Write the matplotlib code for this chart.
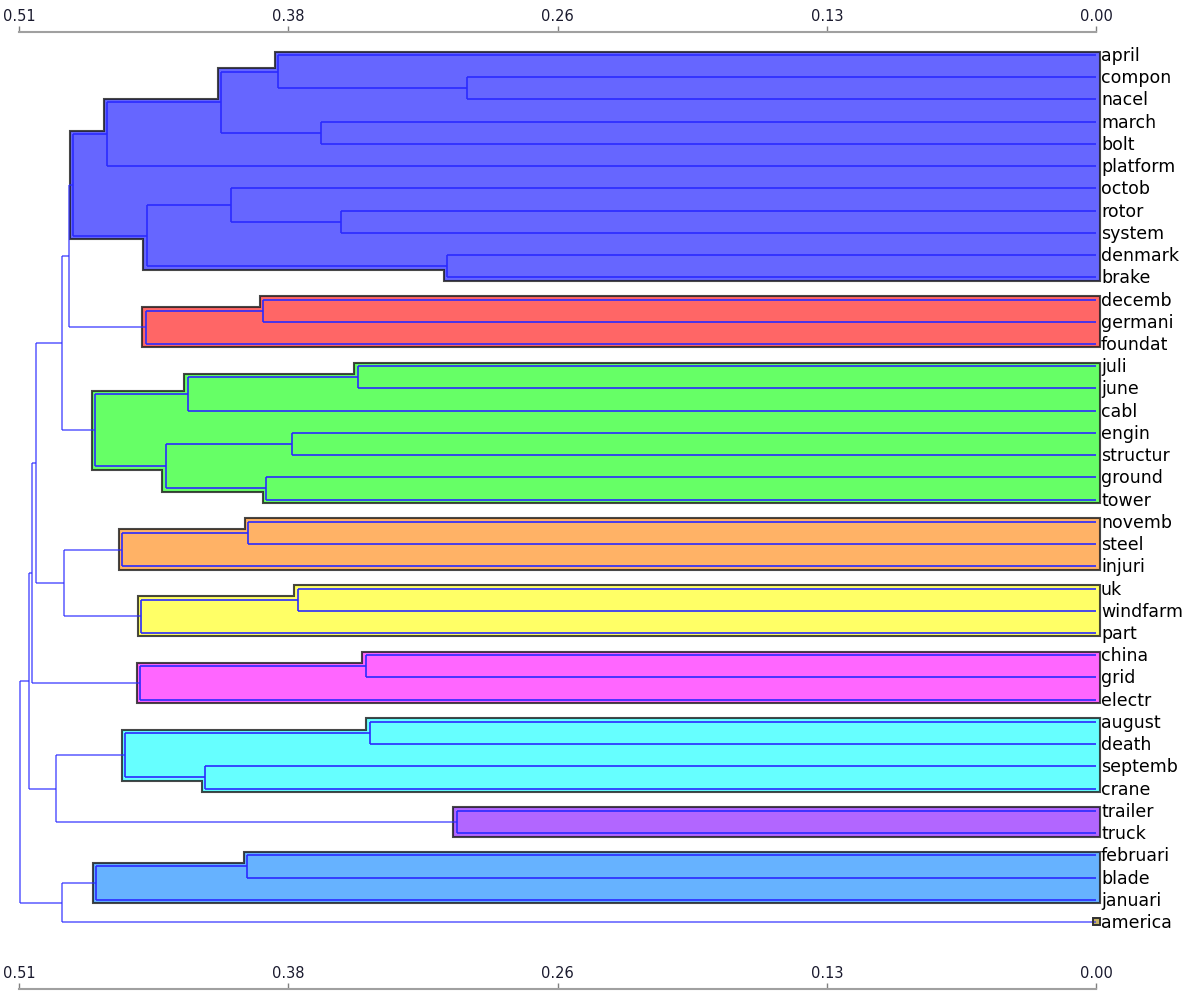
import matplotlib
matplotlib.use("Agg")
import matplotlib.pyplot as plt
from matplotlib.patches import Polygon, Rectangle

# ---------------- data ----------------
leaves = ["april", "compon", "nacel", "march", "bolt", "platform", "octob", "rotor",
          "system", "denmark", "brake", "decemb", "germani", "foundat", "juli", "june",
          "cabl", "engin", "structur", "ground", "tower", "novemb", "steel", "injuri",
          "uk", "windfarm", "part", "china", "grid", "electr", "august", "death",
          "septemb", "crane", "trailer", "truck", "februari", "blade", "januari", "america"]

# merges: children are leaf names or indices of earlier merges
merge_left = ["compon", "april", "march", 1, 3, "rotor", "octob", "denmark", 6, 4,
              "decemb", 10, 9, "juli", 13, "engin", "ground", 15, 14, 12,
              "novemb", 20, "uk", 22, 21, 19, "china", 26, 25, "august",
              "septemb", 29, "trailer", 31, 28, "februari", 35, 36, 34]
merge_right = ["nacel", 0, "bolt", 2, "platform", "system", 5, "brake", 7, 8,
               "germani", "foundat", 11, "june", "cabl", "structur", "tower", 16, 17, 18,
               "steel", "injuri", "windfarm", "part", 23, 24, "grid", "electr", 27, "death",
               "crane", 30, "truck", 32, 33, "blade", "januari", "america", 37]
merge_height = [0.2978, 0.3873, 0.3670, 0.4143, 0.4683, 0.3575, 0.4096, 0.3073, 0.4494, 0.4844,
                0.3944, 0.4499, 0.4863, 0.3495, 0.4300, 0.3807, 0.3930, 0.4404, 0.4740, 0.4896,
                0.4015, 0.4612, 0.3779, 0.4522, 0.4887, 0.5019, 0.3457, 0.4527, 0.5038, 0.3438,
                0.4219, 0.4598, 0.3026, 0.4924, 0.5052, 0.4020, 0.4735, 0.4896, 0.5095]

cluster_roots = [9, 11, 18, 21, 23, 27, 31, 32, 36, "america"]
cluster_colors = ["#0000ff", "#ff0000", "#00ff00", "#ff8000", "#ffff00",
                  "#ff00ff", "#00ffff", "#8000ff", "#0080ff", "#a08000"]

tick_values = [0.0, 0.1275, 0.255, 0.3825, 0.51]
tick_labels = ["0.00", "0.13", "0.26", "0.38", "0.51"]

# ---------------- layout ----------------
W, H = 1189, 991
fig = plt.figure(figsize=(W / 100, H / 100), dpi=100)
L = 19 / W
R = 1096 / W
TOP = 1 - 32 / H
BOT = 1.5 / H
ax = fig.add_axes([L, BOT, R - L, TOP - BOT])
XMAX = 0.51
ax.set_xlim(XMAX, 0)
step_px = 22.23
y_top = (32 - 55) / step_px
y_bot = (H - 1.5 - 55) / step_px
ax.set_ylim(y_bot, y_top)

ax_w_px = (R - L) * W
dx = 3.5 * XMAX / ax_w_px
dy = 3.5 / step_px

# ---------------- tree geometry ----------------
y_of = {name: i for i, name in enumerate(leaves)}
h_of = {name: 0.0 for name in leaves}
children = {}
for k, (a, b, h) in enumerate(zip(merge_left, merge_right, merge_height)):
    y_of[k] = (y_of[a] + y_of[b]) / 2
    h_of[k] = h
    children[k] = (a, b)


def members(node):
    if isinstance(node, str):
        return {node}
    a, b = children[node]
    return {node} | members(a) | members(b)


inside = set()
for r in cluster_roots:
    inside |= {m for m in members(r) if not isinstance(m, str)}


def stair(node, upper):
    pts = []
    cur = node
    while not isinstance(cur, str):
        a, b = children[cur]
        c = a if ((y_of[a] < y_of[b]) == upper) else b
        yc = y_of[c] + (-dy if upper else dy)
        pts.append((h_of[cur] + dx, yc))
        nx = (h_of[c] + dx) if not isinstance(c, str) else -dx
        pts.append((nx, yc))
        cur = c
    return pts


# cluster boxes
for root, col in zip(cluster_roots, cluster_colors):
    if isinstance(root, str):
        y = y_of[root]
        rect = Rectangle((-dx, y - dy), 2 * dx, 2 * dy, facecolor=col, alpha=0.6,
                         edgecolor="none", zorder=1, clip_on=False)
        ax.add_patch(rect)
        rect2 = Rectangle((-dx, y - dy), 2 * dx, 2 * dy, facecolor="none",
                          edgecolor="#303030", lw=1.4, zorder=4, clip_on=False)
        ax.add_patch(rect2)
        continue
    pts = stair(root, True) + stair(root, False)[::-1]
    poly = Polygon(pts, closed=True, facecolor=col, alpha=0.6, edgecolor="none",
                   zorder=1, clip_on=False)
    ax.add_patch(poly)
    edge = Polygon(pts, closed=True, facecolor="none", edgecolor="#1a1a1a", alpha=0.8,
                   lw=1.5, zorder=1.5, clip_on=False)
    ax.add_patch(edge)

# dendrogram lines
for k, (a, b) in children.items():
    h = h_of[k]
    is_in = k in inside
    kw = dict(color="#2a2aff", lw=1.2, alpha=1.0 if is_in else 0.7,
              zorder=2, clip_on=False, solid_capstyle="butt")
    ax.plot([h, h], [y_of[a], y_of[b]], **kw)
    ax.plot([h, h_of[a]], [y_of[a], y_of[a]], **kw)
    ax.plot([h, h_of[b]], [y_of[b], y_of[b]], **kw)

# leaf labels
for i, name in enumerate(leaves):
    ax.annotate(name, xy=(0, i), xytext=(5, -1), textcoords="offset pixels",
                va="center", ha="left", fontsize=12.5, color="#000000",
                family="DejaVu Sans", annotation_clip=False)


# axes styling
def style_axis(a):
    for s in ("left", "right", "bottom"):
        a.spines[s].set_visible(False)
    a.spines["top"].set_color("#a0a0a0")
    a.spines["top"].set_linewidth(1.5)
    a.xaxis.tick_top()
    a.set_xticks(tick_values)
    a.set_xticklabels(tick_labels)
    a.tick_params(axis="x", direction="out", length=4, width=1, color="#808080",
                  pad=2, labelsize=10.5, labelcolor="#1a1a2e")
    a.set_yticks([])
    a.patch.set_visible(False)


style_axis(ax)

ax2 = fig.add_axes([L, BOT, R - L, 0.0001])
ax2.set_xlim(XMAX, 0)
style_axis(ax2)

fig.savefig("out.png", dpi=100)
